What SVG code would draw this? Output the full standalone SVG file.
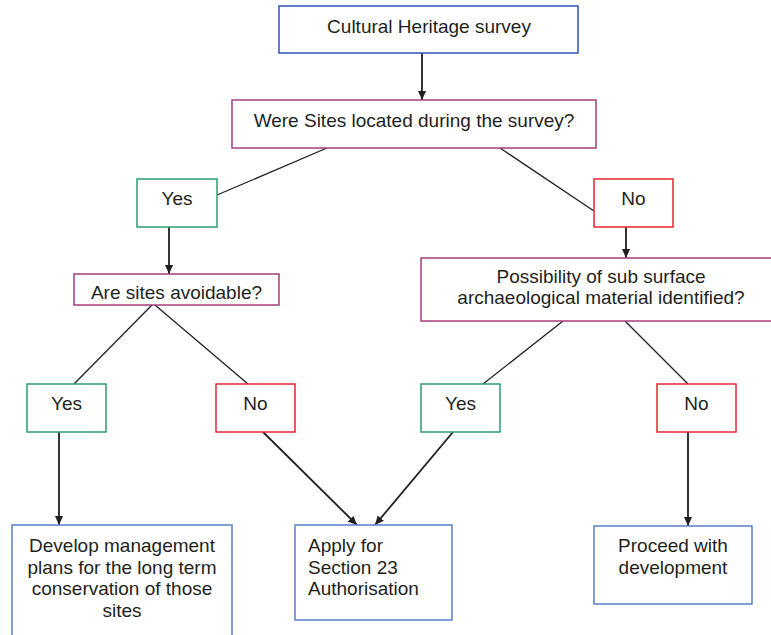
<svg xmlns="http://www.w3.org/2000/svg" width="771" height="635" viewBox="0 0 771 635">
  <style>
    .box { fill: #ffffff; stroke-width: 1.5; }
    .start { stroke: #2f52bd; }
    .question { stroke: #a63c7c; }
    .yes { stroke: #27a06c; }
    .no { stroke: #e8262e; }
    .outcome { stroke: #5b7fc9; }
    .label { font-family: "Liberation Sans", Arial, sans-serif; font-size: 19px; fill: #231f20; }
    .mid { text-anchor: middle; }
    .link { stroke: #231f20; stroke-width: 1.3; fill: none; }
    .arrow { stroke: #231f20; stroke-width: 1.8; fill: none; marker-end: url(#head); }
  </style>
  <defs>
    <marker id="head" viewBox="0 0 10 10" refX="10" refY="5" markerWidth="9" markerHeight="9" markerUnits="userSpaceOnUse" orient="auto">
      <path d="M0,0.5 L10,5 L0,9.5 z" fill="#231f20"/>
    </marker>
  </defs>
  <rect width="771" height="635" fill="#ffffff"/>

  <g id="connectors">
    <line class="arrow" x1="422" y1="53" x2="422" y2="100"/>
    <line class="link" x1="327" y1="148" x2="217" y2="195"/>
    <line class="link" x1="500" y1="148" x2="594" y2="211"/>
    <line class="arrow" x1="169" y1="227" x2="169" y2="274"/>
    <line class="arrow" x1="626" y1="227" x2="626" y2="258"/>
    <line class="link" x1="152" y1="305" x2="74" y2="384"/>
    <line class="link" x1="155" y1="305" x2="248" y2="384"/>
    <line class="link" x1="563" y1="321" x2="483" y2="384"/>
    <line class="link" x1="625" y1="321" x2="688" y2="384"/>
    <line class="arrow" x1="59" y1="432" x2="59" y2="525"/>
    <line class="arrow" x1="263" y1="432" x2="357" y2="525"/>
    <line class="arrow" x1="453" y1="432" x2="375" y2="525"/>
    <line class="arrow" x1="688" y1="432" x2="688" y2="526"/>
  </g>

  <g id="survey">
    <rect class="box start" x="279" y="6" width="299" height="47"/>
    <text class="label mid" x="429" y="32.5">Cultural Heritage survey</text>
  </g>

  <g id="sites-located">
    <rect class="box question" x="232" y="100" width="364" height="48"/>
    <text class="label mid" x="414" y="126.5">Were Sites located during the survey?</text>
  </g>

  <g id="yes-located">
    <rect class="box yes" x="137" y="179" width="80" height="48"/>
    <text class="label mid" x="177" y="205">Yes</text>
  </g>

  <g id="no-located">
    <rect class="box no" x="594" y="179" width="79" height="48"/>
    <text class="label mid" x="633.5" y="205">No</text>
  </g>

  <g id="avoidable">
    <rect class="box question" x="74" y="274" width="205" height="31"/>
    <text class="label mid" x="176.5" y="299">Are sites avoidable?</text>
  </g>

  <g id="subsurface">
    <rect class="box question" x="421" y="258" width="360" height="63"/>
    <text class="label mid" x="601" y="283">Possibility of sub surface</text>
    <text class="label mid" x="601" y="304">archaeological material identified?</text>
  </g>

  <g id="yes-avoidable">
    <rect class="box yes" x="27" y="384" width="79" height="48"/>
    <text class="label mid" x="66.5" y="410">Yes</text>
  </g>

  <g id="no-avoidable">
    <rect class="box no" x="216" y="384" width="79" height="48"/>
    <text class="label mid" x="255.5" y="410">No</text>
  </g>

  <g id="yes-subsurface">
    <rect class="box yes" x="421" y="384" width="79" height="48"/>
    <text class="label mid" x="460.5" y="410">Yes</text>
  </g>

  <g id="no-subsurface">
    <rect class="box no" x="657" y="384" width="79" height="48"/>
    <text class="label mid" x="696.5" y="410">No</text>
  </g>

  <g id="management-plans">
    <rect class="box outcome" x="12" y="525" width="220" height="120"/>
    <text class="label mid" x="122" y="552">Develop management</text>
    <text class="label mid" x="122" y="573.5">plans for the long term</text>
    <text class="label mid" x="122" y="595">conservation of those</text>
    <text class="label mid" x="122" y="616.5">sites</text>
  </g>

  <g id="section-23">
    <rect class="box outcome" x="295" y="525" width="157" height="95"/>
    <text class="label" x="308" y="552">Apply for</text>
    <text class="label" x="308" y="573.5">Section 23</text>
    <text class="label" x="308" y="595">Authorisation</text>
  </g>

  <g id="proceed">
    <rect class="box outcome" x="594" y="526" width="158" height="78"/>
    <text class="label mid" x="673" y="552">Proceed with</text>
    <text class="label mid" x="673" y="573.5">development</text>
  </g>
</svg>
